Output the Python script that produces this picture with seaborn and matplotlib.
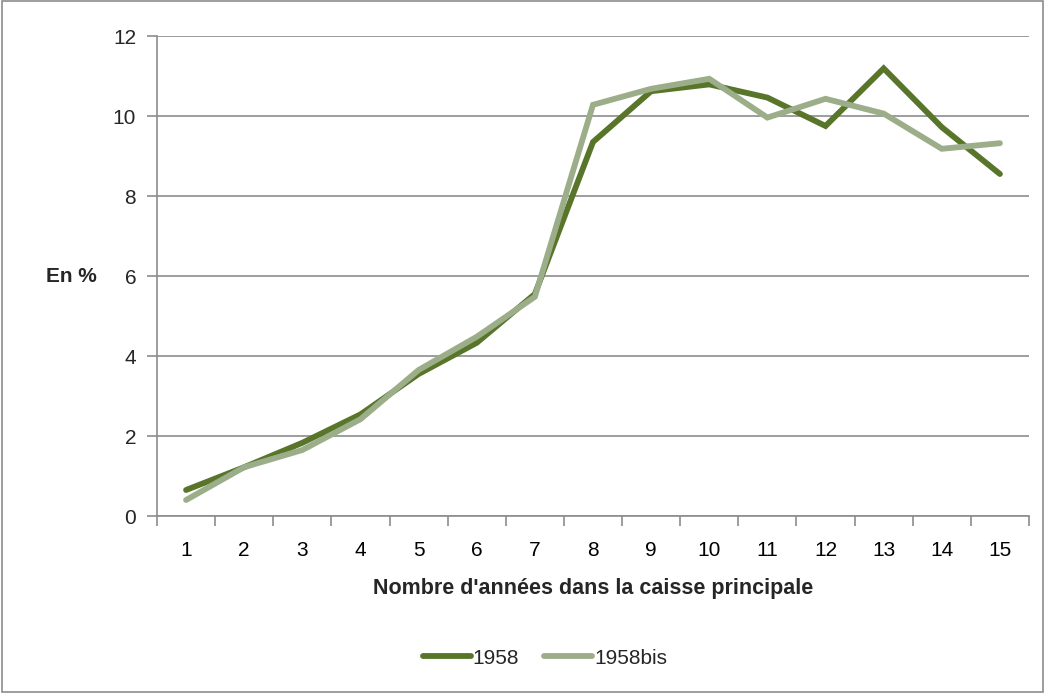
import matplotlib
matplotlib.use("Agg")
import matplotlib.pyplot as plt
import seaborn as sns
import pandas as pd
from matplotlib.patches import Rectangle
from matplotlib.lines import Line2D
from matplotlib.font_manager import fontManager

years = list(range(1, 16))
s1958 = [0.65, 1.22, 1.83, 2.54, 3.55, 4.33, 5.55, 9.35, 10.62, 10.79, 10.46, 9.75, 11.19, 9.72, 8.55]
s1958bis = [0.40, 1.22, 1.65, 2.42, 3.65, 4.48, 5.48, 10.28, 10.68, 10.93, 9.96, 10.43, 10.06, 9.18, 9.32]
series_names = ["1958", "1958bis"]
colors = ["#58752A", "#9BAE89"]
xlabel = "Nombre d'années dans la caisse principale"
ylabel = "En %"

df = pd.DataFrame({
    "x": years * 2,
    "y": s1958 + s1958bis,
    "serie": [series_names[0]] * 15 + [series_names[1]] * 15,
})

sns.set_theme(style="white")
names = {f.name for f in fontManager.ttflist}
fam = "Liberation Sans Narrow" if "Liberation Sans Narrow" in names else "Liberation Sans"
plt.rcParams["font.family"] = [fam, "DejaVu Sans"]

fig = plt.figure(figsize=(10.45, 6.93), dpi=100)
ax = fig.add_axes([157/1045, 1-516/693, (1029-157)/1045, (516-36)/693])

sns.lineplot(data=df, x="x", y="y", hue="serie", palette=colors, linewidth=4.2,
             ax=ax, legend=False, solid_capstyle="round", solid_joinstyle="miter")

ax.set_xlim(0.5, 15.5)
ax.set_ylim(0, 12)
ax.set_yticks(range(0, 13, 2))
ax.set_xticks(years)
ax.set_xticks([i + 0.5 for i in range(0, 16)], minor=True)
ax.grid(axis="y", color="#8C8C8C", linewidth=1.2)
ax.set_axisbelow(True)
for s in ["top", "right"]:
    ax.spines[s].set_visible(False)
for s in ["left", "bottom"]:
    ax.spines[s].set_color("#8C8C8C")
    ax.spines[s].set_linewidth(1.2)
ax.tick_params(axis="x", which="major", length=0, pad=18, labelsize=15, colors="black")
ax.tick_params(axis="x", which="minor", length=7, width=1.2, color="#8C8C8C", direction="out", bottom=True)
ax.tick_params(axis="y", which="major", length=7, width=1.2, color="#8C8C8C", direction="out", left=True,
               labelsize=15, pad=8)
ax.set_xlabel(xlabel, fontsize=15.5, fontweight="bold", labelpad=13)
ax.set_ylabel(ylabel, fontsize=15, fontweight="bold", rotation=0, va="center", ha="center", labelpad=0)
ax.yaxis.set_label_coords(-0.098, 0.5)

handles = [Line2D([], [], color=c, linewidth=4.2) for c in colors]
fig.legend(handles, series_names, loc="center", bbox_to_anchor=(545/1045, 1-658/693), ncol=2,
           frameon=False, fontsize=15, handlelength=2.3, handletextpad=0.1, columnspacing=1.2)

fig.patches.append(Rectangle((0.002, 0.002), 0.996, 0.996, transform=fig.transFigure,
                             fill=False, edgecolor="#8C8C8C", linewidth=1.2))
fig.savefig("out.png", dpi=100)
